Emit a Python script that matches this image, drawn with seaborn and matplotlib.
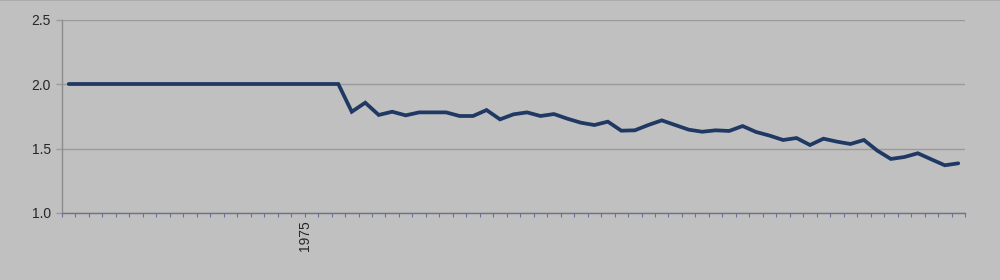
import numpy as np
import pandas as pd
import matplotlib
matplotlib.use("Agg")
import matplotlib.pyplot as plt
import seaborn as sns

years = list(range(1957, 2024))
values = [2.0] * 21 + [
    1.785, 1.855, 1.76, 1.785, 1.757, 1.78, 1.78, 1.78, 1.752, 1.752,
    1.798, 1.726, 1.765, 1.78, 1.752, 1.767, 1.731, 1.70, 1.682, 1.708,
    1.638, 1.641, 1.682, 1.718, 1.682, 1.646, 1.63, 1.641, 1.636, 1.674,
    1.628, 1.60, 1.566, 1.581, 1.527, 1.576, 1.553, 1.535, 1.566, 1.483,
    1.419, 1.434, 1.463, 1.416, 1.37, 1.385,
]
label_year = "1975"
yticks = [1.0, 1.5, 2.0, 2.5]

df = pd.DataFrame({"idx": np.arange(len(years)), "value": values})

sns.set_theme(style="white")
plt.rcParams["font.family"] = ["Liberation Sans", "DejaVu Sans"]

bg = "#c0c0c0"
fig = plt.figure(figsize=(10, 2.8), dpi=100, facecolor=bg)
ax = fig.add_axes([0.062, 1 - 213 / 280, 0.903, (213 - 19.5) / 280])
ax.set_facecolor(bg)

sns.lineplot(data=df, x="idx", y="value", ax=ax, color="#1f3864",
             linewidth=2.7, solid_joinstyle="miter", solid_capstyle="round")

n = len(years)
ax.set_xlim(-0.5, n - 0.5)
ax.set_ylim(1.0, 2.5)
ax.set_yticks(yticks)
ax.set_yticklabels([f"{t:.1f}" for t in yticks], fontsize=10, color="#262626")
ax.yaxis.grid(True, color="#9a9a9a", linewidth=1.0)
ax.set_axisbelow(True)

tick_pos = np.arange(n + 1) - 0.5
ax.set_xticks(tick_pos)
lab_idx = years.index(int(label_year))
ax.set_xticklabels([label_year if i == lab_idx else "" for i in range(n + 1)],
                   rotation=90, fontsize=10, color="#262626")
ax.tick_params(axis="x", bottom=True, direction="out", length=3, width=0.8,
               color="#6a7390", pad=2)
ax.tick_params(axis="y", left=True, direction="out", length=4, width=1.0,
               color="#9a9a9a", pad=4)

for s in ["top", "right"]:
    ax.spines[s].set_visible(False)
ax.spines["left"].set_color("#8c8c8c")
ax.spines["left"].set_linewidth(1.0)
ax.spines["bottom"].set_color("#6a7390")
ax.spines["bottom"].set_linewidth(1.0)
ax.set_xlabel("")
ax.set_ylabel("")

fig.add_artist(plt.Line2D([0, 1], [0.999, 0.999], color="#a8a8a8", linewidth=1.2,
                          transform=fig.transFigure))

fig.savefig("out.png", dpi=100, facecolor=bg)
